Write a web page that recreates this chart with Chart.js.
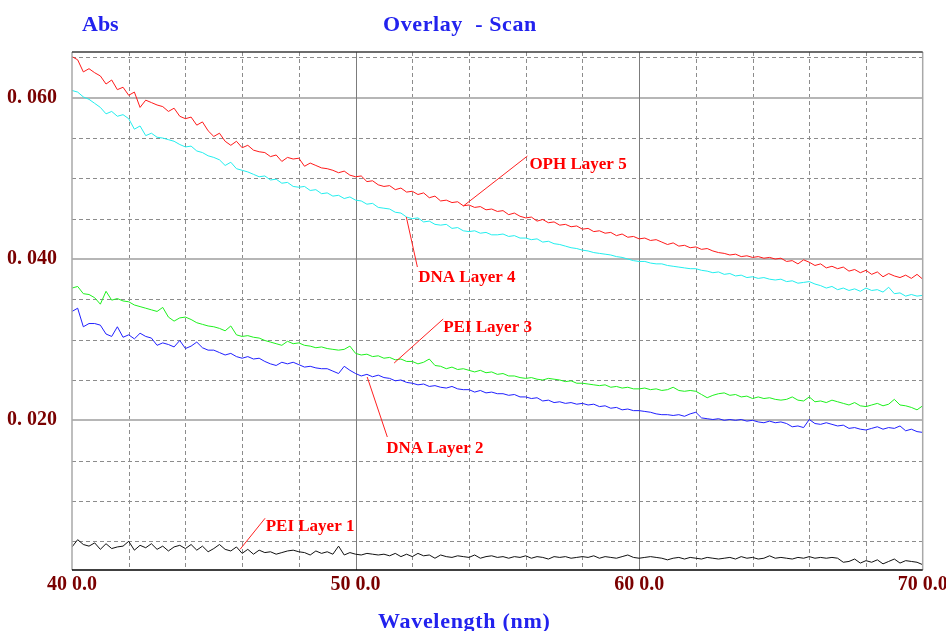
<!DOCTYPE html>
<html>
<head>
<meta charset="utf-8">
<script src="https://cdn.jsdelivr.net/npm/chart.js@4.4.1/dist/chart.umd.min.js"></script>
<style>
  html, body { margin: 0; padding: 0; background: #ffffff; overflow: hidden; }
  canvas { display: block; }
</style>
</head>
<body>
<canvas id="scan" width="946" height="631"></canvas>
<script>
// Scan sampling grid (nm), one reading every 2 nm from 400 to 700
const wavelengths = Array.from({ length: 151 }, (_, i) => 400 + 2 * i);

// Absorbance readings for each deposited layer
const ophLayer5 = [
  .0651,.0647,.0632,.0636,.0631,.0627,.0617,.0622,.0610,.0613,
  .0603,.0607,.0588,.0597,.0594,.0591,.0589,.0583,.0587,.0577,
  .0574,.0576,.0566,.0570,.0559,.0552,.0556,.0546,.0541,.0546,
  .0538,.0541,.0535,.0533,.0532,.0527,.0529,.0521,.0526,.0524,
  .0525,.0515,.0519,.0516,.0513,.0512,.0510,.0507,.0509,.0504,
  .0502,.0503,.0496,.0497,.0492,.0490,.0491,.0486,.0488,.0483,
  .0484,.0480,.0482,.0476,.0478,.0472,.0473,.0470,.0471,.0466,
  .0467,.0464,.0465,.0461,.0462,.0459,.0460,.0455,.0457,.0453,
  .0451,.0452,.0447,.0449,.0445,.0446,.0442,.0443,.0440,.0441,
  .0437,.0438,.0434,.0435,.0432,.0433,.0429,.0431,.0427,.0428,
  .0425,.0426,.0423,.0424,.0421,.0418,.0420,.0416,.0417,.0414,
  .0415,.0412,.0413,.0410,.0408,.0407,.0405,.0406,.0403,.0404,
  .0402,.0403,.0401,.0402,.0400,.0401,.0397,.0398,.0394,.0399,
  .0396,.0392,.0394,.0389,.0391,.0388,.0390,.0385,.0387,.0383,
  .0386,.0381,.0384,.0378,.0382,.0379,.0377,.0380,.0376,.0381,
  .0375
];
const dnaLayer4 = [
  .0609,.0607,.0601,.0598,.0593,.0588,.0580,.0583,.0577,.0579,
  .0574,.0561,.0565,.0553,.0556,.0551,.0550,.0548,.0546,.0542,
  .0539,.0540,.0534,.0532,.0528,.0526,.0523,.0516,.0520,.0512,
  .0510,.0508,.0505,.0502,.0503,.0498,.0499,.0494,.0495,.0490,
  .0489,.0490,.0485,.0486,.0481,.0482,.0478,.0479,.0475,.0477,
  .0473,.0472,.0468,.0469,.0464,.0463,.0462,.0458,.0457,.0452,
  .0450,.0451,.0446,.0447,.0443,.0442,.0443,.0438,.0439,.0435,
  .0434,.0435,.0432,.0433,.0430,.0430,.0431,.0428,.0429,.0426,
  .0426,.0424,.0425,.0421,.0422,.0419,.0418,.0416,.0414,.0413,
  .0411,.0410,.0408,.0407,.0406,.0405,.0403,.0402,.0400,.0398,
  .0397,.0397,.0395,.0394,.0394,.0392,.0391,.0390,.0389,.0388,
  .0388,.0386,.0385,.0383,.0384,.0381,.0382,.0379,.0380,.0377,
  .0378,.0376,.0377,.0375,.0374,.0375,.0372,.0373,.0370,.0371,
  .0372,.0369,.0367,.0364,.0366,.0362,.0364,.0361,.0363,.0360,
  .0364,.0361,.0362,.0359,.0365,.0357,.0358,.0354,.0356,.0354,
  .0355
];
const peiLayer3 = [
  .0364,.0366,.0357,.0356,.0352,.0344,.0360,.0349,.0351,.0348,
  .0347,.0343,.0341,.0339,.0337,.0335,.0340,.0328,.0323,.0327,
  .0328,.0325,.0321,.0319,.0317,.0316,.0314,.0311,.0317,.0306,
  .0304,.0305,.0303,.0302,.0299,.0297,.0295,.0293,.0298,.0295,
  .0296,.0293,.0292,.0290,.0291,.0289,.0288,.0287,.0288,.0292,
  .0283,.0281,.0282,.0279,.0280,.0277,.0278,.0275,.0276,.0273,
  .0273,.0270,.0272,.0276,.0268,.0267,.0264,.0266,.0263,.0264,
  .0262,.0260,.0262,.0259,.0260,.0257,.0258,.0255,.0255,.0253,
  .0252,.0253,.0251,.0250,.0252,.0251,.0250,.0248,.0249,.0246,
  .0246,.0245,.0244,.0243,.0244,.0241,.0242,.0240,.0241,.0239,
  .0239,.0240,.0238,.0239,.0237,.0238,.0241,.0237,.0236,.0237,
  .0236,.0232,.0228,.0231,.0233,.0234,.0231,.0232,.0229,.0230,
  .0227,.0229,.0227,.0228,.0226,.0225,.0226,.0229,.0225,.0224,
  .0229,.0223,.0224,.0222,.0225,.0223,.0221,.0219,.0222,.0218,
  .0217,.0219,.0221,.0218,.0220,.0226,.0219,.0218,.0216,.0213,
  .0218
];
const dnaLayer2 = [
  .0335,.0339,.0316,.0320,.0320,.0318,.0307,.0304,.0316,.0303,
  .0306,.0301,.0308,.0304,.0302,.0293,.0296,.0294,.0291,.0299,
  .0289,.0292,.0297,.0290,.0287,.0287,.0284,.0281,.0283,.0279,
  .0277,.0279,.0276,.0277,.0273,.0270,.0268,.0272,.0270,.0272,
  .0269,.0266,.0267,.0265,.0264,.0264,.0261,.0258,.0267,.0262,
  .0258,.0255,.0257,.0254,.0256,.0253,.0252,.0249,.0250,.0247,
  .0246,.0244,.0245,.0242,.0243,.0241,.0240,.0242,.0239,.0238,
  .0238,.0235,.0237,.0234,.0235,.0233,.0233,.0231,.0232,.0229,
  .0229,.0227,.0228,.0224,.0225,.0222,.0223,.0221,.0222,.0220,
  .0221,.0219,.0220,.0217,.0218,.0215,.0216,.0213,.0214,.0212,
  .0212,.0211,.0210,.0208,.0207,.0207,.0206,.0207,.0205,.0208,
  .0210,.0203,.0202,.0201,.0202,.0200,.0201,.0200,.0201,.0199,
  .0200,.0198,.0197,.0199,.0197,.0198,.0196,.0192,.0193,.0191,
  .0201,.0196,.0195,.0197,.0195,.0193,.0194,.0190,.0191,.0189,
  .0188,.0190,.0192,.0189,.0191,.0190,.0193,.0187,.0189,.0186,
  .0185
];
const peiLayer1 = [
  .0043,.0052,.0046,.0044,.0048,.0040,.0047,.0041,.0043,.0044,
  .0050,.0039,.0045,.0042,.0047,.0040,.0044,.0038,.0043,.0045,
  .0041,.0046,.0039,.0044,.0037,.0041,.0046,.0040,.0038,.0043,
  .0035,.0040,.0034,.0039,.0036,.0037,.0034,.0036,.0038,.0039,
  .0037,.0036,.0033,.0038,.0035,.0037,.0034,.0044,.0033,.0036,
  .0034,.0033,.0035,.0034,.0033,.0034,.0032,.0035,.0031,.0034,
  .0031,.0035,.0032,.0033,.0029,.0033,.0031,.0030,.0032,.0031,
  .0030,.0033,.0029,.0031,.0032,.0030,.0031,.0029,.0031,.0030,
  .0032,.0029,.0031,.0030,.0028,.0031,.0030,.0031,.0029,.0030,
  .0031,.0030,.0032,.0029,.0031,.0030,.0029,.0031,.0033,.0030,
  .0029,.0030,.0031,.0030,.0029,.0027,.0029,.0030,.0028,.0030,
  .0029,.0028,.0030,.0029,.0028,.0029,.0030,.0028,.0031,.0029,
  .0030,.0028,.0029,.0032,.0029,.0030,.0029,.0028,.0030,.0029,
  .0031,.0029,.0030,.0029,.0030,.0029,.0024,.0025,.0028,.0023,
  .0026,.0024,.0027,.0022,.0025,.0028,.0023,.0026,.0025,.0024,
  .0021
];

// Axis range and tick/grid positions
const xRange = [400, 700];
const yRange = [0.00144, 0.06567];
const xLabelTicks = [400, 500, 600, 700];
const xTickLabels = ['40 0.0', '50 0.0', '60 0.0', '70 0.0'];
const xMinorGrid = [420, 440, 460, 480, 520, 540, 560, 580, 620, 640, 660, 680];
const xMajorGrid = [500, 600];
const yLabelTicks = [0.02, 0.04, 0.06];
const yTickLabels = ['0. 020', '0. 040', '0. 060'];
const yMinorGrid = [0.005, 0.010, 0.015, 0.025, 0.030, 0.035, 0.045, 0.050, 0.055, 0.065];
const yMajorGrid = [0.02, 0.04, 0.06];

// Callout labels: text anchor and leader line ends, in (nm, Abs)
const calloutNames = ['OPH Layer 5', 'DNA Layer 4', 'PEI Layer 3', 'DNA Layer 2', 'PEI Layer 1'];
const calloutText = [[561.3, 0.0517], [522.1, 0.03765], [530.9, 0.03145], [510.8, 0.01644], [468.3, 0.00686]];
const calloutFrom = [[560.6, 0.05277], [517.9, 0.04521], [530.9, 0.03256], [504.1, 0.02537], [468.1, 0.00786]];
const calloutTo = [[538.0, 0.04657], [521.8, 0.03901], [513.6, 0.02710], [511.2, 0.01793], [459.3, 0.00401]];

const SERIF = "'Liberation Serif', 'Times New Roman', serif";
const TITLE_BLUE = '#2222ee';
const TICK_RED = '#7a0000';

const toPoints = (vals) => vals.map((v, i) => ({ x: wavelengths[i], y: v }));

const gridPlugin = {
  id: 'scanGrid',
  beforeDatasetsDraw(chart) {
    const { ctx, chartArea: a, scales: { x, y } } = chart;
    ctx.save();
    ctx.lineWidth = 1;
    ctx.strokeStyle = '#8c8c8c';
    ctx.setLineDash([4, 3]);
    yMinorGrid.forEach(v => {
      const p = Math.round(y.getPixelForValue(v)) + 0.5;
      ctx.beginPath(); ctx.moveTo(a.left, p); ctx.lineTo(a.right, p); ctx.stroke();
    });
    xMinorGrid.forEach(v => {
      const p = Math.round(x.getPixelForValue(v)) + 0.5;
      ctx.beginPath(); ctx.moveTo(p, a.top); ctx.lineTo(p, a.bottom); ctx.stroke();
    });
    ctx.setLineDash([]);
    ctx.strokeStyle = '#b6b6b6';
    ctx.lineWidth = 2;
    yMajorGrid.forEach(v => {
      const p = Math.round(y.getPixelForValue(v));
      ctx.beginPath(); ctx.moveTo(a.left, p); ctx.lineTo(a.right, p); ctx.stroke();
    });
    ctx.strokeStyle = '#7c7c7c';
    ctx.lineWidth = 1;
    xMajorGrid.forEach(v => {
      const p = Math.round(x.getPixelForValue(v)) + 0.5;
      ctx.beginPath(); ctx.moveTo(p, a.top); ctx.lineTo(p, a.bottom); ctx.stroke();
    });
    ctx.restore();
  },
  afterDatasetsDraw(chart) {
    const { ctx, chartArea: a, scales: { x, y } } = chart;
    ctx.save();
    // frame
    ctx.strokeStyle = '#a8a8a8';
    ctx.lineWidth = 1.5;
    ctx.beginPath(); ctx.moveTo(a.left, a.top); ctx.lineTo(a.left, a.bottom); ctx.stroke();
    ctx.beginPath(); ctx.moveTo(a.right, a.top); ctx.lineTo(a.right, a.bottom); ctx.stroke();
    ctx.strokeStyle = '#3c3c3c';
    ctx.beginPath(); ctx.moveTo(a.left, a.top); ctx.lineTo(a.right, a.top); ctx.stroke();
    ctx.strokeStyle = '#000000';
    ctx.lineWidth = 1.5;
    ctx.beginPath(); ctx.moveTo(a.left, a.bottom); ctx.lineTo(a.right, a.bottom); ctx.stroke();

    // callouts
    ctx.strokeStyle = '#ff2020';
    ctx.lineWidth = 1;
    ctx.fillStyle = '#ff0000';
    ctx.font = 'bold 17px ' + SERIF;
    ctx.textAlign = 'left';
    ctx.textBaseline = 'middle';
    calloutNames.forEach((name, i) => {
      ctx.beginPath();
      ctx.moveTo(x.getPixelForValue(calloutFrom[i][0]), y.getPixelForValue(calloutFrom[i][1]));
      ctx.lineTo(x.getPixelForValue(calloutTo[i][0]), y.getPixelForValue(calloutTo[i][1]));
      ctx.stroke();
      ctx.fillText(name, x.getPixelForValue(calloutText[i][0]), y.getPixelForValue(calloutText[i][1]));
    });
    ctx.restore();
  },
  afterDraw(chart) {
    const { ctx } = chart;
    ctx.save();
    ctx.fillStyle = TITLE_BLUE;
    ctx.font = 'bold 22px ' + SERIF;
    ctx.textAlign = 'left';
    ctx.textBaseline = 'alphabetic';
    ctx.fillText('Abs', 82, 31);
    ctx.letterSpacing = '0.6px';
    ctx.fillText('Overlay  - Scan', 383, 31);
    ctx.letterSpacing = '0.7px';
    ctx.fillText('Wavelength (nm)', 378, 628);
    ctx.restore();
  }
};

const tickFont = { family: SERIF, size: 20, weight: 'bold' };

new Chart(document.getElementById('scan'), {
  type: 'line',
  data: {
    datasets: [
      { label: 'OPH Layer 5', data: toPoints(ophLayer5), borderColor: '#ff1a1a' },
      { label: 'DNA Layer 4', data: toPoints(dnaLayer4), borderColor: '#22eeee' },
      { label: 'PEI Layer 3', data: toPoints(peiLayer3), borderColor: '#1ef01e' },
      { label: 'DNA Layer 2', data: toPoints(dnaLayer2), borderColor: '#2020ff' },
      { label: 'PEI Layer 1', data: toPoints(peiLayer1), borderColor: '#111111' }
    ]
  },
  options: {
    responsive: false,
    animation: false,
    events: [],
    layout: { padding: { left: 0, top: 52, right: 23.3, bottom: 0 } },
    elements: {
      line: { borderWidth: 1, tension: 0, fill: false },
      point: { radius: 0 }
    },
    plugins: { legend: { display: false }, tooltip: { enabled: false }, title: { display: false } },
    scales: {
      x: {
        type: 'linear',
        min: xRange[0],
        max: xRange[1],
        afterBuildTicks: (s) => { s.ticks = xLabelTicks.map(v => ({ value: v })); },
        afterFit: (s) => { s.height = 61; s.paddingLeft = 0; s.paddingRight = 0; },
        grid: { display: false, drawTicks: false },
        border: { display: false },
        ticks: {
          autoSkip: false,
          maxRotation: 0,
          padding: 3,
          color: TICK_RED,
          font: tickFont,
          callback: (v) => xTickLabels[xLabelTicks.indexOf(v)] ?? ''
        }
      },
      y: {
        type: 'linear',
        min: yRange[0],
        max: yRange[1],
        afterBuildTicks: (s) => { s.ticks = yLabelTicks.map(v => ({ value: v })); },
        afterFit: (s) => { s.width = 72; s.paddingTop = 0; s.paddingBottom = 0; },
        grid: { display: false, drawTicks: false },
        border: { display: false },
        ticks: {
          padding: 15,
          color: TICK_RED,
          font: tickFont,
          callback: (v) => {
            const k = yLabelTicks.findIndex(t => Math.abs(t - v) < 1e-9);
            return k >= 0 ? yTickLabels[k] : '';
          }
        }
      }
    }
  },
  plugins: [gridPlugin]
});
</script>
</body>
</html>
